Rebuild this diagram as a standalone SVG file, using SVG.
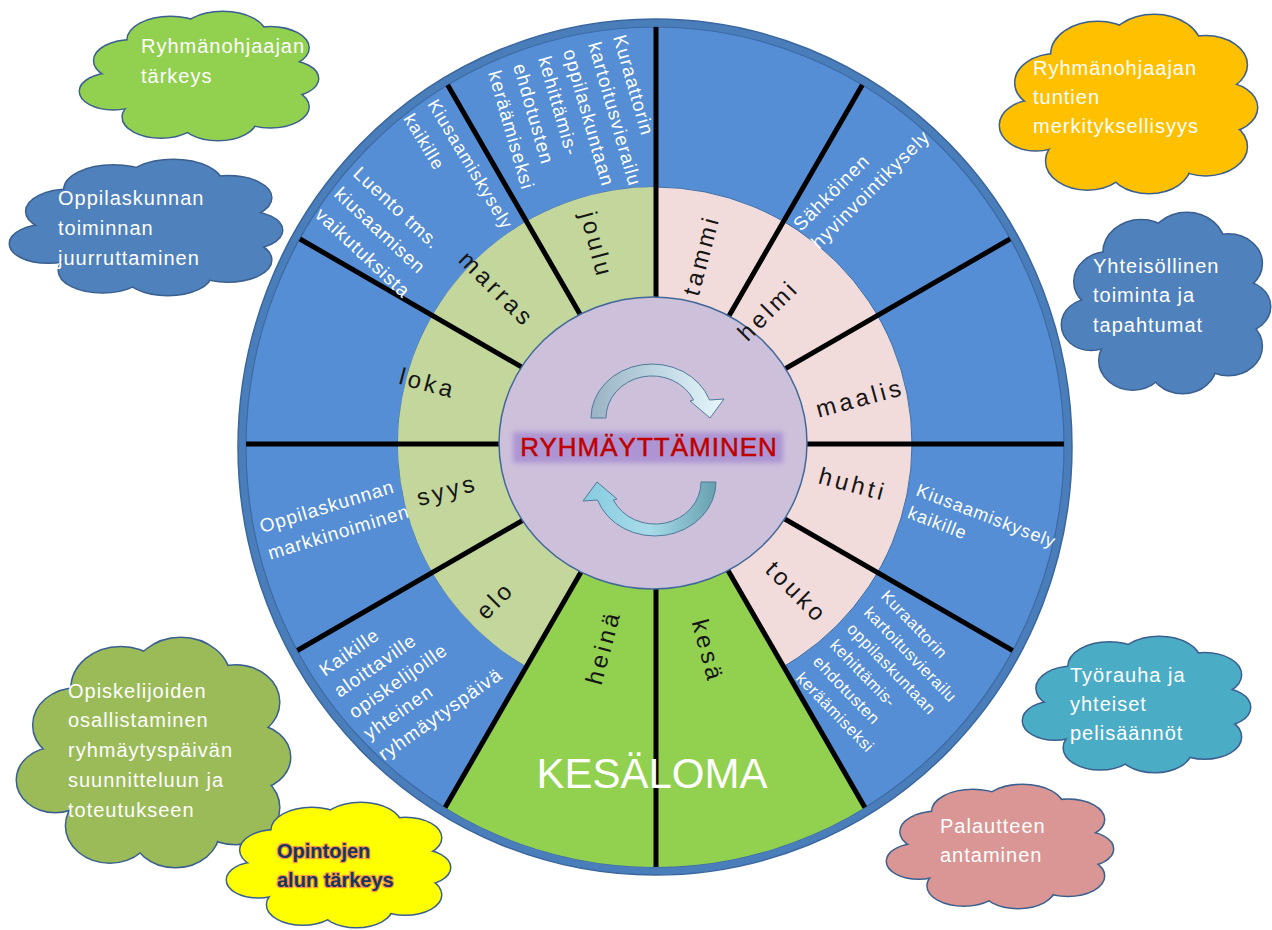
<svg xmlns="http://www.w3.org/2000/svg" width="1272" height="930" viewBox="0 0 1272 930">
<defs>
<style>
  text{font-family:"Liberation Sans",Arial,sans-serif}
  .mon{font-size:24px;letter-spacing:3.5px;fill:#151515}
  .wt{font-size:19px;letter-spacing:1px;fill:#ffffff}
  .wm{font-size:18px;letter-spacing:1px;fill:#ffffff}
  .ws{font-size:16.5px;letter-spacing:0.6px;fill:#ffffff}
  .ct{font-size:20px;letter-spacing:1px;fill:#ffffff}
  .spoke{stroke:#000000;stroke-width:5}
</style>
<clipPath id="wheelClip"><ellipse cx="655" cy="447" rx="409" ry="420"/></clipPath>
<linearGradient id="gTop" x1="0" y1="0" x2="1" y2="0">
  <stop offset="0" stop-color="#9ab3c4"/><stop offset="0.5" stop-color="#bfd7e3"/><stop offset="1" stop-color="#e6f6fb"/>
</linearGradient>
<linearGradient id="gBot" x1="0" y1="0" x2="1" y2="0">
  <stop offset="0" stop-color="#66a0ae"/><stop offset="0.5" stop-color="#a8dbea"/><stop offset="1" stop-color="#86cbe0"/>
</linearGradient>
<filter id="soft" x="-10%" y="-50%" width="120%" height="200%"><feGaussianBlur stdDeviation="2.5"/></filter>
<!-- cloud outline: stroked circles underneath, filled circles on top give the union outline -->
<g id="cloud">
  <g stroke="#3b6090" stroke-width="3">
    <circle cx="22" cy="38" r="16" vector-effect="non-scaling-stroke"/>
    <circle cx="38" cy="22" r="18" vector-effect="non-scaling-stroke"/>
    <circle cx="60" cy="18" r="18" vector-effect="non-scaling-stroke"/>
    <circle cx="80" cy="28" r="16" vector-effect="non-scaling-stroke"/>
    <circle cx="86" cy="52" r="14" vector-effect="non-scaling-stroke"/>
    <circle cx="80" cy="74" r="16" vector-effect="non-scaling-stroke"/>
    <circle cx="58" cy="84" r="16" vector-effect="non-scaling-stroke"/>
    <circle cx="34" cy="82" r="16" vector-effect="non-scaling-stroke"/>
    <circle cx="14" cy="62" r="14" vector-effect="non-scaling-stroke"/>
  </g>
  <g stroke="none">
    <circle cx="22" cy="38" r="16"/>
    <circle cx="38" cy="22" r="18"/>
    <circle cx="60" cy="18" r="18"/>
    <circle cx="80" cy="28" r="16"/>
    <circle cx="86" cy="52" r="14"/>
    <circle cx="80" cy="74" r="16"/>
    <circle cx="58" cy="84" r="16"/>
    <circle cx="34" cy="82" r="16"/>
    <circle cx="14" cy="62" r="14"/>
    <circle cx="50" cy="52" r="34"/>
  </g>
</g>
</defs>

<rect width="1272" height="930" fill="#ffffff"/>

<!-- year wheel -->
<g id="wheel">
  <ellipse cx="655" cy="447" rx="417" ry="428" fill="#4a7ebb" stroke="#3a67a0" stroke-width="1.5"/>
  <ellipse cx="655" cy="447" rx="409" ry="420" fill="#558ed5" stroke="#3c6aa4" stroke-width="1.2"/>
  <!-- month ring: spring half pink, autumn half light green -->
  <circle cx="655" cy="444" r="257" fill="#f2dcdb" stroke="#3f6ea8" stroke-width="1"/>
  <path d="M655 444 L655 187 A257 257 0 0 0 526.5 666.6 Z" fill="#c3d69b"/>
  <!-- summer holiday sector -->
  <path d="M655 444 L405 877 A500 500 0 0 0 905 877 Z" fill="#92d050" clip-path="url(#wheelClip)"/>
</g>

<g id="spokes" clip-path="url(#wheelClip)">
  <line class="spoke" x1="215" y1="444" x2="1095" y2="444"/>
  <line class="spoke" x1="274" y1="664" x2="1036" y2="224"/>
  <line class="spoke" x1="435" y1="825" x2="875" y2="63"/>
  <line class="spoke" x1="656" y1="4" x2="656" y2="884"/>
  <line class="spoke" x1="435" y1="63" x2="875" y2="825"/>
  <line class="spoke" x1="274" y1="224" x2="1036" y2="664"/>
</g>

<g id="hub">
  <ellipse cx="653" cy="443" rx="154" ry="146" fill="#ccc0da" stroke="#41689a" stroke-width="1.5"/>
  <rect x="513" y="432" width="270" height="31" fill="#a88ed2" opacity="0.85" filter="url(#soft)"/>
  <text x="649" y="456" text-anchor="middle" font-size="26" letter-spacing="1" fill="#c00000" stroke="#c00000" stroke-width="0.5">RYHMÄYTTÄMINEN</text>
</g>

<g id="cycle-arrows" stroke="#507a98" stroke-width="1">
  <path d="M591 418 A61 54 0 0 1 709.5 400 L724 399 L710 418 L690 401 L693.6 400 A46 42 0 0 0 606 418 Z" fill="url(#gTop)"/>
  <path d="M591 418 A61 54 0 0 1 709.5 400 L724 399 L710 418 L690 401 L693.6 400 A46 42 0 0 0 606 418 Z" fill="url(#gBot)" transform="rotate(180 653.5 450)"/>
</g>

<!-- month labels -->
<g id="months">
  <text class="mon" text-anchor="middle" dy="0.35em" transform="translate(701 255) rotate(-75)">tammi</text>
  <text class="mon" text-anchor="middle" dy="0.35em" transform="translate(768 310) rotate(-45)">helmi</text>
  <text class="mon" text-anchor="middle" dy="0.35em" transform="translate(860 398) rotate(-15)">maalis</text>
  <text class="mon" text-anchor="middle" dy="0.35em" transform="translate(853 484) rotate(15)">huhti</text>
  <text class="mon" text-anchor="middle" dy="0.35em" transform="translate(797 592) rotate(45)">touko</text>
  <text class="mon" text-anchor="middle" dy="0.35em" transform="translate(708 651) rotate(75)">kesä</text>
  <text class="mon" text-anchor="middle" dy="0.35em" transform="translate(603 647) rotate(-75)">heinä</text>
  <text class="mon" text-anchor="middle" dy="0.35em" transform="translate(495 600) rotate(-45)">elo</text>
  <text class="mon" text-anchor="middle" dy="0.35em" transform="translate(447 490) rotate(-15)">syys</text>
  <text class="mon" text-anchor="middle" dy="0.35em" transform="translate(428 383) rotate(15)">loka</text>
  <text class="mon" text-anchor="middle" dy="0.35em" transform="translate(497 289) rotate(45)">marras</text>
  <text class="mon" text-anchor="middle" dy="0.35em" transform="translate(597 245) rotate(75)">joulu</text>
</g>

<text id="summer" x="652" y="788" text-anchor="middle" font-size="42" fill="#ffffff">KESÄLOMA</text>

<!-- activities in the outer ring -->
<g id="act-joulu" class="wt" transform="translate(613 37) rotate(74)">
  <text y="0">Kuraattorin</text><text y="26">kartoitusvierailu</text><text y="52">oppilaskuntaan</text>
  <text y="78">kehittämis-</text><text y="104">ehdotusten</text><text y="130">keräämiseksi</text>
</g>
<g id="act-marras-1" class="wm" transform="translate(427 104) rotate(59)">
  <text y="0">Kiusaamiskysely</text><text y="28">kaikille</text>
</g>
<g id="act-marras-2" class="wt" transform="translate(352 175) rotate(43)">
  <text y="0">Luento tms.</text><text y="28">kiusaamisen</text><text y="56">vaikutuksista</text>
</g>
<g id="act-helmi" class="wt" transform="translate(801 232) rotate(-45)">
  <text y="0">Sähköinen</text><text y="25.5">hyvinvointikysely</text>
</g>
<g id="act-huhti" class="wm" transform="translate(915 495) rotate(21)">
  <text y="0">Kiusaamiskysely</text><text y="24">kaikille</text>
</g>
<g id="act-touko" class="ws" transform="translate(880 597) rotate(46)">
  <text y="0">Kuraattorin</text><text y="23.6">kartoitusvierailu</text><text y="47.2">oppilaskuntaan</text>
  <text y="70.8">kehittämis-</text><text y="94.4">ehdotusten</text><text y="118">keräämiseksi</text>
</g>
<g id="act-elo" class="wt" transform="translate(325 677) rotate(-35)">
  <text y="0">Kaikille</text><text y="25.75">aloittaville</text><text y="51.5">opiskelijoille</text>
  <text y="77.25">yhteinen</text><text y="103">ryhmäytyspäivä</text>
</g>
<g id="act-syys" class="wt" transform="translate(262 533) rotate(-17)">
  <text y="0">Oppilaskunnan</text><text y="28">markkinoiminen</text>
</g>

<!-- themes -->
<g id="cloud-ohjaaja">
  <use href="#cloud" fill="#92d050" transform="translate(80 12) scale(2.38 1.28)"/>
  <text class="ct" x="141" y="53">Ryhmänohjaajan</text><text class="ct" x="141" y="83">tärkeys</text>
</g>
<g id="cloud-oppilaskunta">
  <use href="#cloud" fill="#4f81bd" transform="translate(10 160) scale(2.72 1.35)"/>
  <text class="ct" x="58" y="205">Oppilaskunnan</text><text class="ct" x="58" y="235">toiminnan</text><text class="ct" x="58" y="265">juurruttaminen</text>
</g>
<g id="cloud-tunnit">
  <use href="#cloud" fill="#ffc000" transform="translate(1000 15) scale(2.57 1.78)"/>
  <text class="ct" x="1033" y="75">Ryhmänohjaajan</text><text class="ct" x="1033" y="104">tuntien</text><text class="ct" x="1033" y="133">merkityksellisyys</text>
</g>
<g id="cloud-yhteisollinen">
  <use href="#cloud" fill="#4f81bd" transform="translate(1062 213) scale(2.08 1.8)"/>
  <text class="ct" x="1093" y="273">Yhteisöllinen</text><text class="ct" x="1093" y="302">toiminta ja</text><text class="ct" x="1093" y="332">tapahtumat</text>
</g>
<g id="cloud-osallistaminen">
  <use href="#cloud" fill="#9bbb59" transform="translate(17 638) scale(2.73 2.29)"/>
  <text class="ct" x="68" y="698">Opiskelijoiden</text><text class="ct" x="68" y="727">osallistaminen</text>
  <text class="ct" x="68" y="757">ryhmäytyspäivän</text><text class="ct" x="68" y="787">suunnitteluun ja</text><text class="ct" x="68" y="817">toteutukseen</text>
</g>
<g id="cloud-opintojen-alku">
  <use href="#cloud" fill="#ffff00" transform="translate(227 803) scale(2.23 1.24)"/>
  <g font-size="20" font-weight="bold" fill="#17365d" stroke="#f79646" stroke-width="2.5" paint-order="stroke" stroke-linejoin="round">
    <text x="277" y="858">Opintojen</text><text x="277" y="887">alun tärkeys</text>
  </g>
</g>
<g id="cloud-tyorauha">
  <use href="#cloud" fill="#4bacc6" transform="translate(1023 637) scale(2.27 1.35)"/>
  <text class="ct" x="1070" y="682">Työrauha ja</text><text class="ct" x="1070" y="711">yhteiset</text><text class="ct" x="1070" y="740">pelisäännöt</text>
</g>
<g id="cloud-palaute">
  <use href="#cloud" fill="#d99694" transform="translate(887 785) scale(2.26 1.23)"/>
  <text class="ct" x="940" y="833">Palautteen</text><text class="ct" x="940" y="862">antaminen</text>
</g>
</svg>
